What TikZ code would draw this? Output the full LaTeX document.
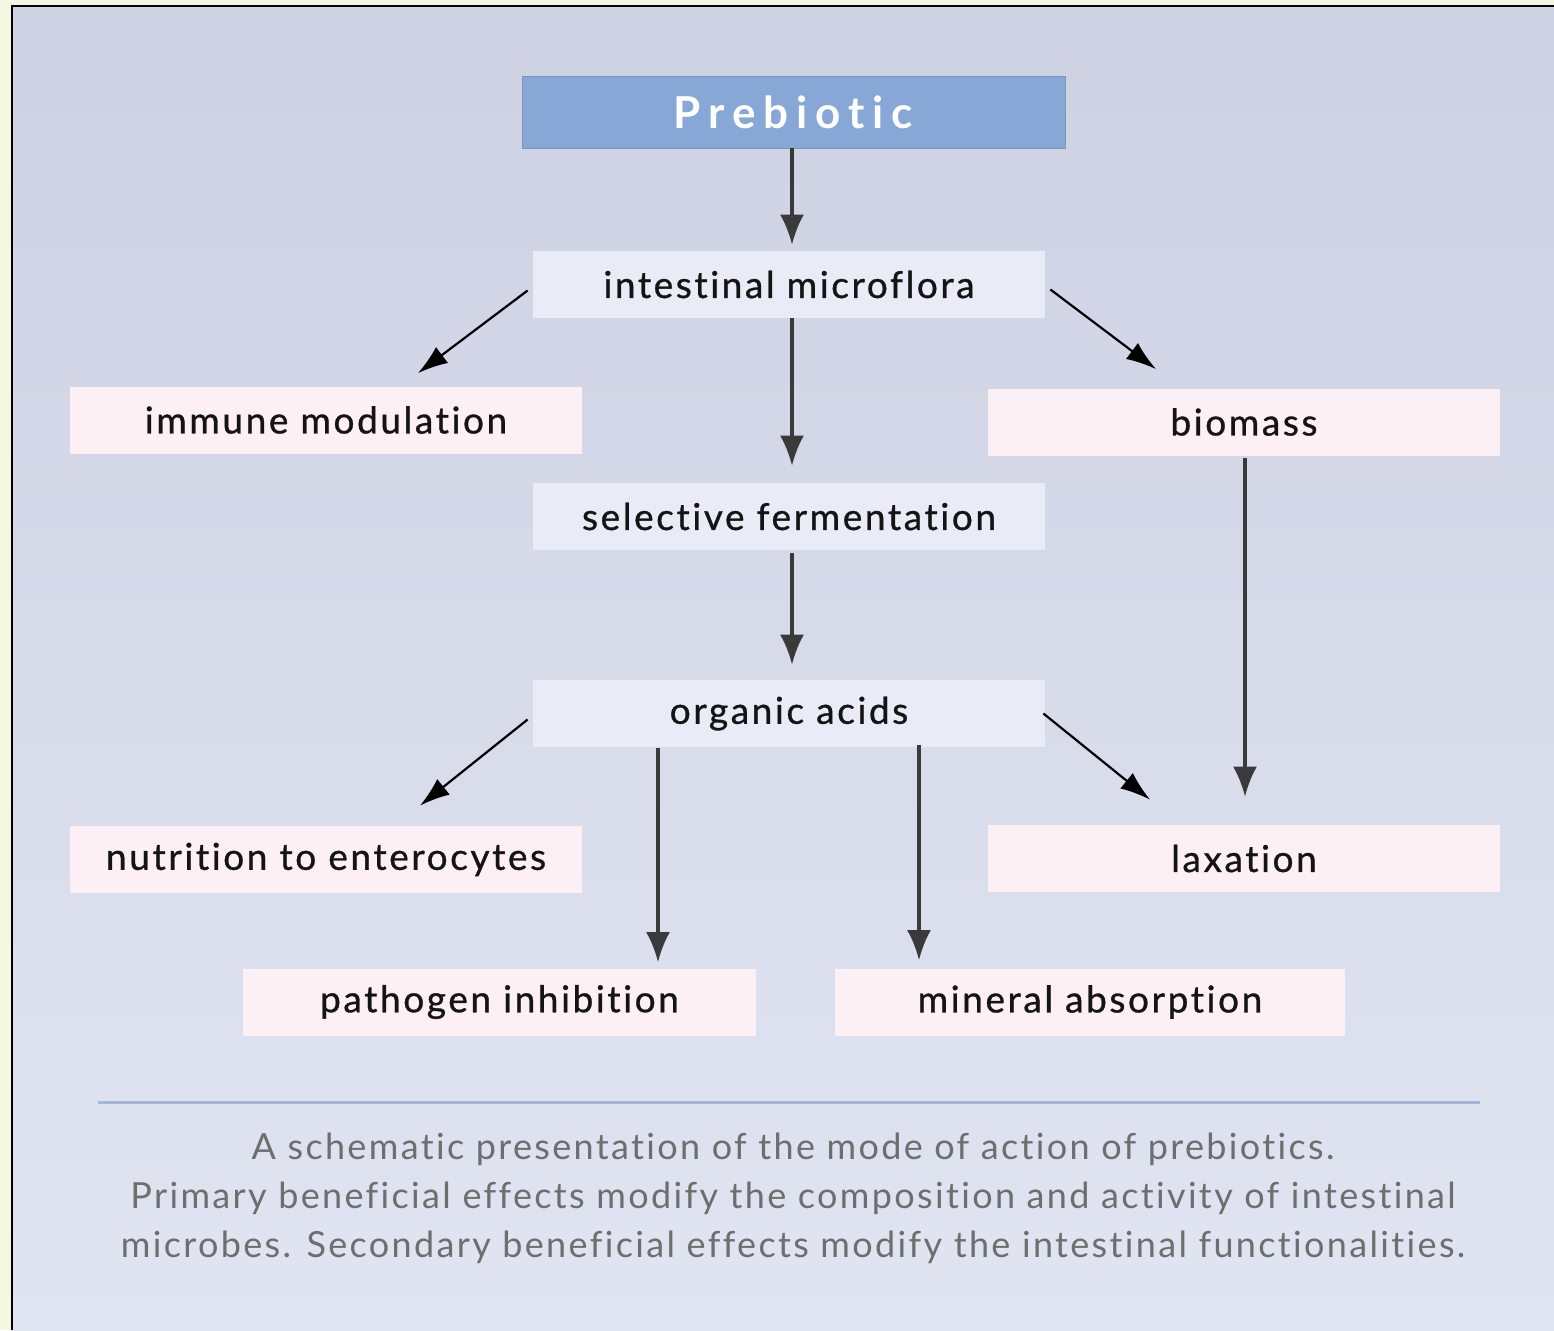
\documentclass[tikz,border=0pt]{standalone}
\usepackage{fontspec}
\setmainfont[Ligatures=NoCommon]{Lato}
\usetikzlibrary{arrows.meta,calc}
\definecolor{outside}{HTML}{F4F7E2}
\definecolor{bgtop}{HTML}{CED1E2}
\definecolor{bgbot}{HTML}{E1E4F1}
\definecolor{preblue}{HTML}{87A8D6}
\definecolor{lavbox}{HTML}{E9EBF6}
\definecolor{pinkbox}{HTML}{FCF0F4}
\definecolor{arrgray}{HTML}{3A3A3A}
\definecolor{sepblue}{HTML}{A3B7DB}
\definecolor{captiongray}{HTML}{6E6E6E}
\tikzset{
  boxbase/.style={rectangle, inner sep=0pt, minimum width=256pt, minimum height=33.5pt,
    font=\fontsize{18.5}{20}\selectfont\addfontfeature{LetterSpace=7,FakeBold=0.8}, text=black!92},
  lavnode/.style={boxbase, fill=lavbox},
  pinknode/.style={boxbase, fill=pinkbox},
  prenode/.style={rectangle, inner sep=0pt, minimum width=271.5pt, minimum height=36pt,
    fill=preblue, draw=preblue!90!black, line width=0.4pt, text=white,
    font=\fontsize{22}{24}\selectfont\bfseries\addfontfeature{LetterSpace=18}},
  varrow/.style={draw=arrgray, line width=1.6pt, -{Latex[length=15pt,width=12pt]}},
  darrow/.style={draw=black, line width=1.1pt, -{Latex[length=15pt,width=10pt]}},
}
\begin{document}
\begin{tikzpicture}[x=0.5pt,y=-0.5pt]
\useasboundingbox (0,0) rectangle (1554,1330);
% outside and frame
\fill[outside] (0,0) rectangle (1554,1330);
\shade[top color=bgtop, bottom color=bgbot] (12,7) rectangle (1554,1330);
\draw[black, line width=1.2pt] (12,1330) -- (12,6) -- (1554,6);

% nodes
\node[prenode] (pre) at (793.5,112) {Prebiotic};
\node[lavnode] (int) at (789,284.5) {intestinal microflora};
\node[pinknode] (imm) at (326,420) {immune modulation};
\node[pinknode] (bio) at (1244,422) {biomass};
\node[lavnode] (sel) at (789,516.5) {selective fermentation};
\node[lavnode] (org) at (789,713.5) {organic acids};
\node[pinknode] (nut) at (326,859.5) {nutrition to enterocytes};
\node[pinknode] (lax) at (1244,858.5) {laxation};
\node[pinknode, minimum width=256.5pt] (pat) at (499.5,1002) {pathogen inhibition};
\node[pinknode, minimum width=255pt] (min) at (1090,1002) {mineral absorption};

% connectors
\draw[varrow] ($(pre.south)+(-1.5,0)$) -- ($(int.north)+(3,-6)$);
\draw[varrow] ($(int.south)+(3,0)$) -- ($(sel.north)+(3,-17)$);
\draw[varrow] ($(sel.south)+(3,3)$) -- ($(org.north)+(3,-15)$);
\draw[varrow] ($(bio.south)+(1,2)$) -- ($(lax.north)+(1,-28)$);
\draw[varrow] ($(org.south)+(-131,1)$) -- ($(pat.north)+(158.5,-6)$);
\draw[varrow] ($(org.south)+(130,-2)$) -- ($(min.north)+(-171,-8)$);
\draw[darrow] ($(int.west)+(-5,6)$) -- ($(imm.north)+(92,-13)$);
\draw[darrow] ($(int.east)+(5,5)$) -- ($(bio.north)+(-88,-19)$);
\draw[darrow] ($(org.west)+(-5,6)$) -- ($(nut.north)+(94,-20)$);
\draw[darrow] ($(org.east)+(-2,0)$) -- ($(lax.north)+(-94,-25)$);

% separator and caption
\coordinate (sepL) at (98,1102);
\coordinate (sepR) at (1480,1102);
\draw[sepblue, line width=1.5pt] (sepL) -- (sepR);
\node[text=captiongray, align=center, font=\fontsize{18}{24.5}\selectfont\addfontfeature{LetterSpace=6.5}] (cap) at (793,1198)
 {A schematic presentation of the mode of action of prebiotics.\\
  Primary beneficial effects modify the composition and activity of intestinal\\
  microbes. Secondary beneficial effects modify the intestinal functionalities.};
\end{tikzpicture}
\end{document}
